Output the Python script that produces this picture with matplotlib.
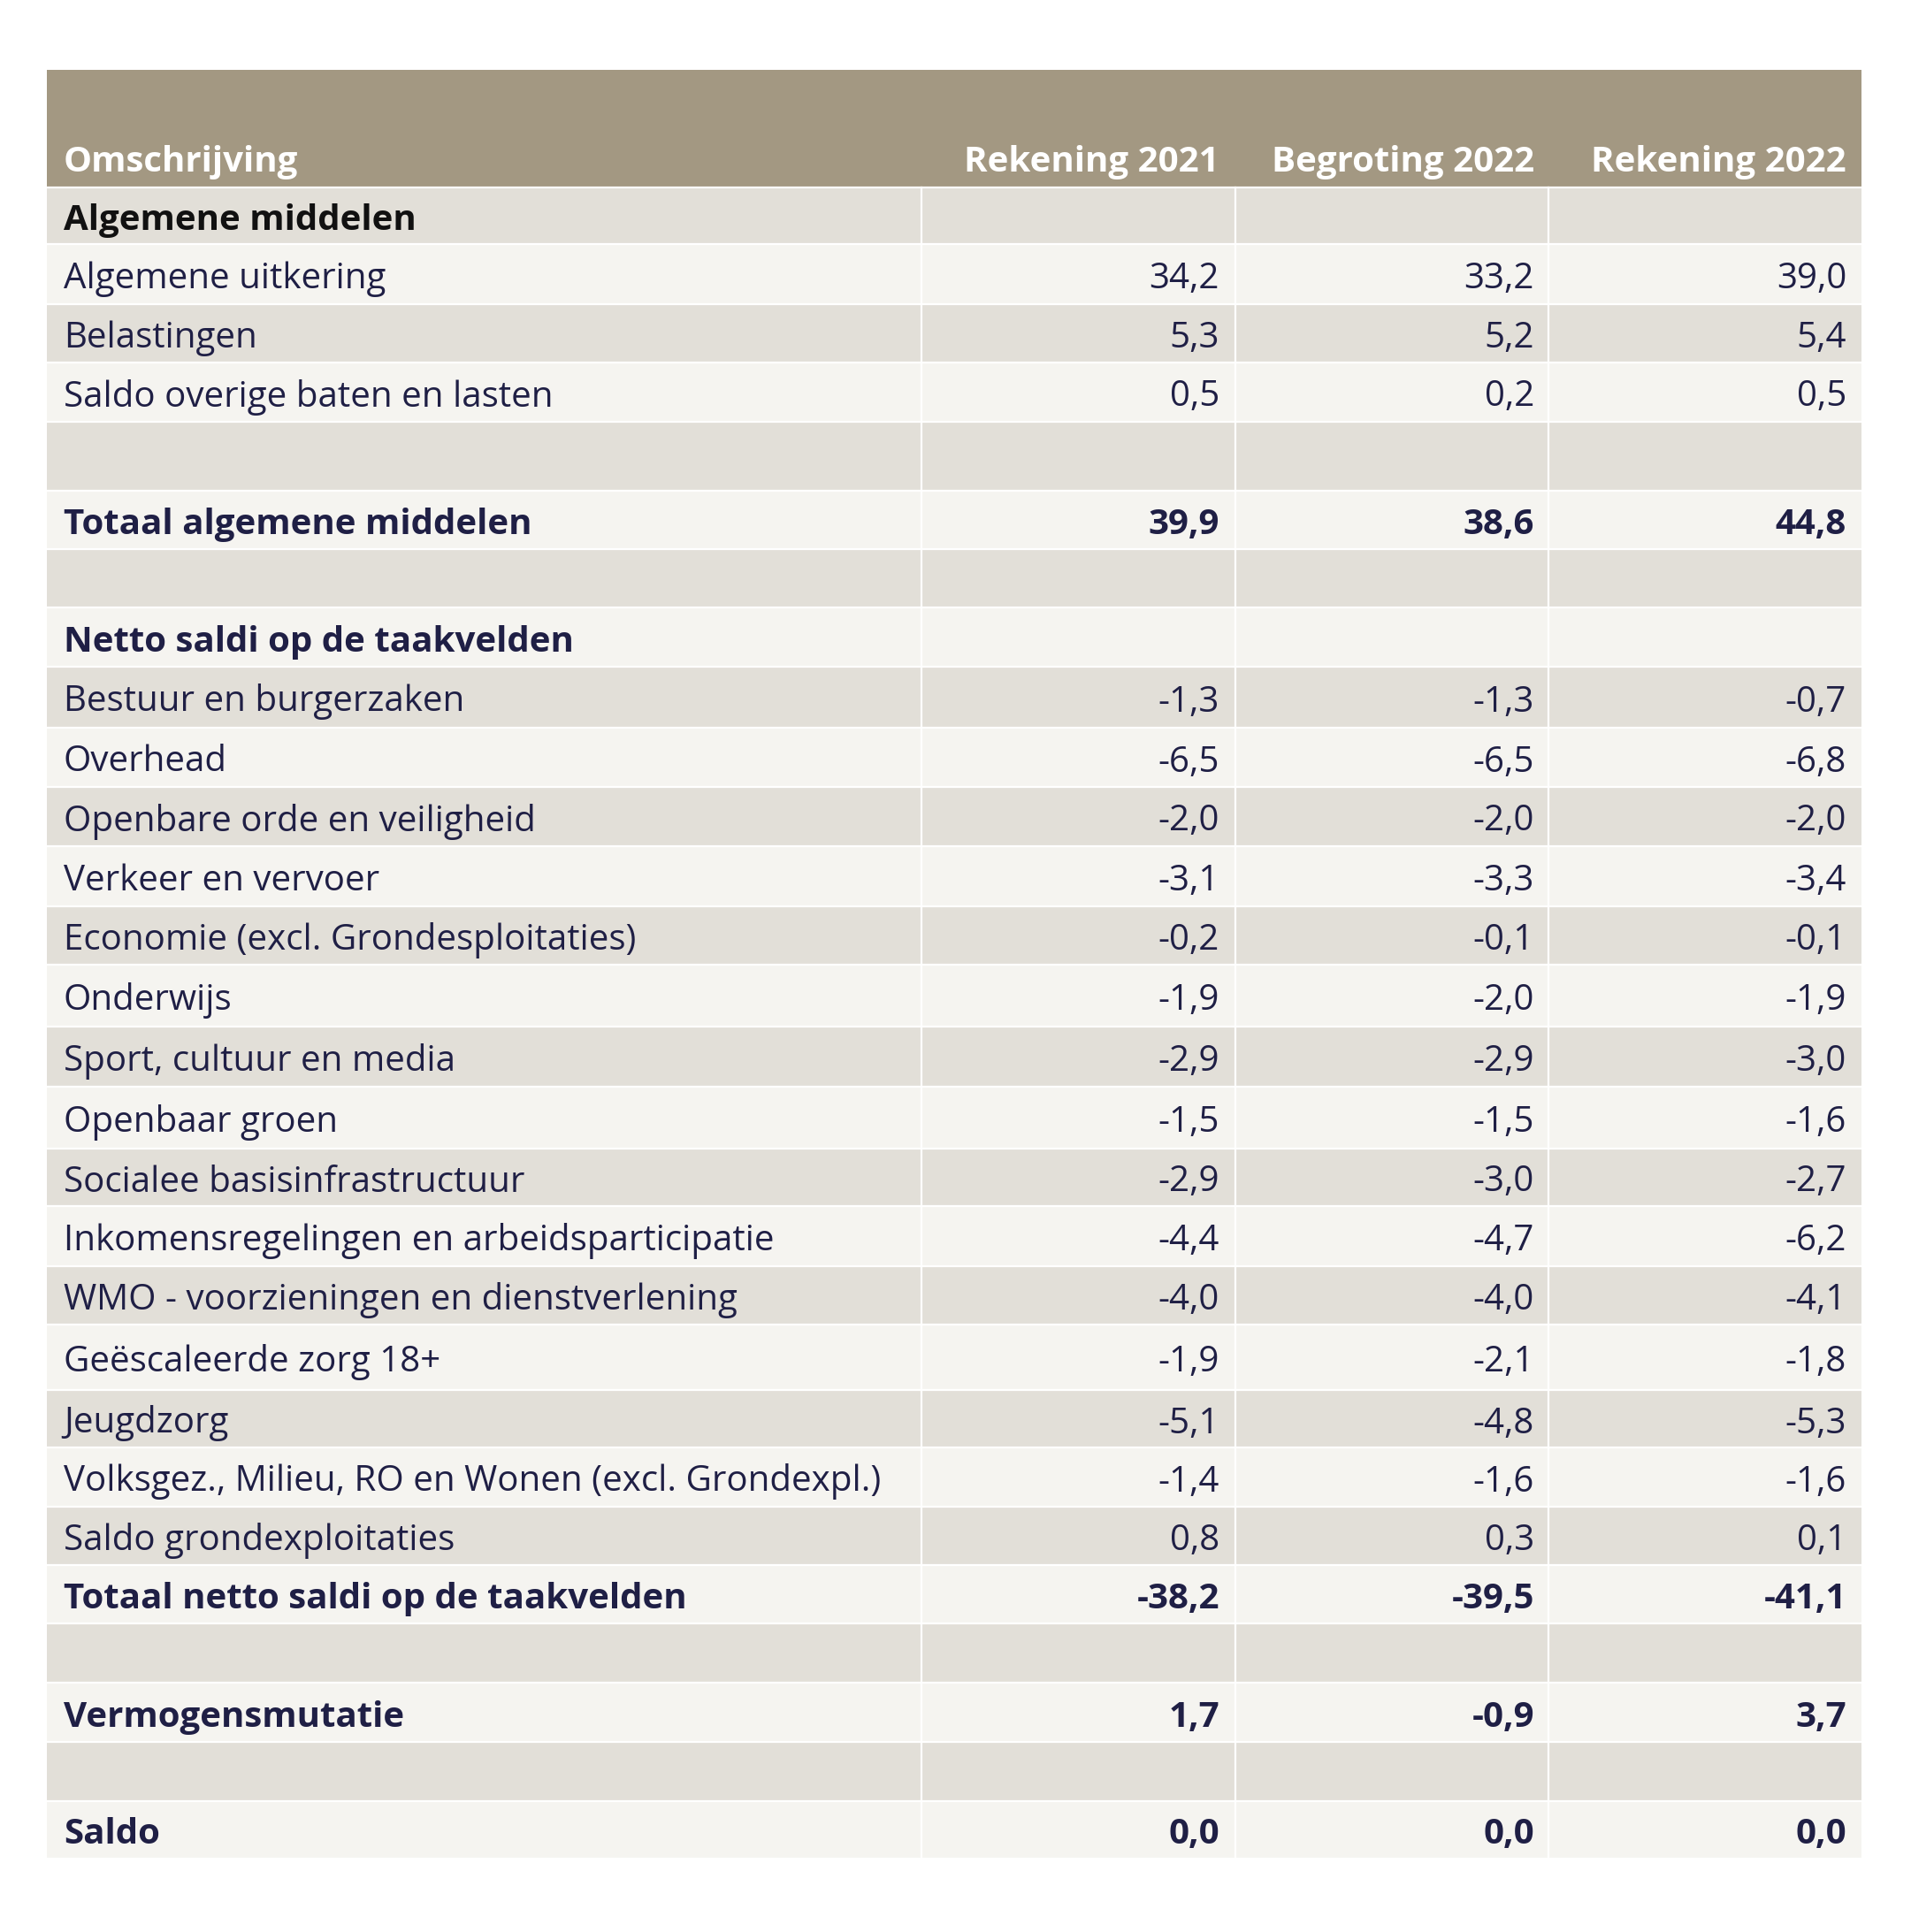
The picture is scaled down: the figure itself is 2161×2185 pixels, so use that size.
import matplotlib
matplotlib.use("Agg")
import matplotlib.pyplot as plt
from matplotlib.patches import Rectangle

# ---------------- data ----------------
headers = ["Omschrijving", "Rekening 2021", "Begroting 2022", "Rekening 2022"]

labels = [
    "Algemene middelen",
    "Algemene uitkering",
    "Belastingen",
    "Saldo overige baten en lasten",
    "",
    "Totaal algemene middelen",
    "",
    "Netto saldi op de taakvelden",
    "Bestuur en burgerzaken",
    "Overhead",
    "Openbare orde en veiligheid",
    "Verkeer en vervoer",
    "Economie (excl. Grondesploitaties)",
    "Onderwijs",
    "Sport, cultuur en media",
    "Openbaar groen",
    "Socialee basisinfrastructuur",
    "Inkomensregelingen en arbeidsparticipatie",
    "WMO - voorzieningen en dienstverlening",
    "Geëscaleerde zorg 18+",
    "Jeugdzorg",
    "Volksgez., Milieu, RO en Wonen (excl. Grondexpl.)",
    "Saldo grondexploitaties",
    "Totaal netto saldi op de taakvelden",
    "",
    "Vermogensmutatie",
    "",
    "Saldo",
]

rekening_2021 = [None, 34.2, 5.3, 0.5, None, 39.9, None, None,
                 -1.3, -6.5, -2.0, -3.1, -0.2, -1.9, -2.9, -1.5, -2.9, -4.4, -4.0, -1.9, -5.1, -1.4, 0.8,
                 -38.2, None, 1.7, None, 0.0]
begroting_2022 = [None, 33.2, 5.2, 0.2, None, 38.6, None, None,
                  -1.3, -6.5, -2.0, -3.3, -0.1, -2.0, -2.9, -1.5, -3.0, -4.7, -4.0, -2.1, -4.8, -1.6, 0.3,
                  -39.5, None, -0.9, None, 0.0]
rekening_2022 = [None, 39.0, 5.4, 0.5, None, 44.8, None, None,
                 -0.7, -6.8, -2.0, -3.4, -0.1, -1.9, -3.0, -1.6, -2.7, -6.2, -4.1, -1.8, -5.3, -1.6, 0.1,
                 -41.1, None, 3.7, None, 0.0]

bold_rows = {"Algemene middelen", "Totaal algemene middelen", "Netto saldi op de taakvelden",
             "Totaal netto saldi op de taakvelden", "Vermogensmutatie", "Saldo"}

# ---------------- layout ----------------
W, H = 2161, 2185
FONT = ["Open Sans", "DejaVu Sans"]
FS = 29
HEADER_BG = "#A39882"
DARK = "#E2DFD8"
LIGHT = "#F5F4F0"
TXT = "#1F1F45"

table_left, table_right = 53, 2105
header_top, header_bottom = 79, 212
row_edges = [212, 276, 344, 410, 477, 555, 621, 687, 754, 823, 890, 957, 1025, 1091,
             1161, 1229, 1299, 1364, 1432, 1498, 1572, 1637, 1704, 1770, 1836, 1903,
             1970, 2037, 2101]
col_edges = [53, 1042, 1397, 1751, 2105]
text_left = 72
num_right = [1379, 1735, 2088]

fig = plt.figure(figsize=(W / 100, H / 100), dpi=100)
ax = fig.add_axes([0, 0, 1, 1])
ax.set_xlim(0, W)
ax.set_ylim(H, 0)
ax.axis("off")

# header
ax.add_patch(Rectangle((table_left, header_top), table_right - table_left,
                       header_bottom - header_top, facecolor=HEADER_BG, edgecolor="none"))
ax.text(text_left, 194, headers[0], fontsize=FS, fontweight="bold", color="white",
        family=FONT, ha="left", va="baseline")
for j, hx in enumerate(num_right):
    ax.text(hx, 194, headers[j + 1], fontsize=FS, fontweight="bold", color="white",
            family=FONT, ha="right", va="baseline")

def fmt(v):
    return f"{v:.1f}".replace(".", ",")

series = [rekening_2021, begroting_2022, rekening_2022]
for i, lab in enumerate(labels):
    y0, y1 = row_edges[i], row_edges[i + 1]
    bg = DARK if i % 2 == 0 else LIGHT
    ax.add_patch(Rectangle((table_left, y0), table_right - table_left, y1 - y0,
                           facecolor=bg, edgecolor="none"))
    ax.plot([table_left, table_right], [y0, y0], color="white", lw=1.6, solid_capstyle="butt")
    yb = (y0 + y1) / 2 + 16
    bold = lab in bold_rows
    col = "#111111" if i == 0 else TXT
    if lab:
        ax.text(text_left, yb, lab, fontsize=FS, fontweight="bold" if bold else "normal",
                color=col, family=FONT, ha="left", va="baseline")
    for j, s in enumerate(series):
        v = s[i]
        if v is not None:
            ax.text(num_right[j], yb, fmt(v), fontsize=FS,
                    fontweight="bold" if bold else "normal", color=TXT, family=FONT,
                    ha="right", va="baseline")

# vertical column separators (body only)
for cx in col_edges[1:-1]:
    ax.plot([cx, cx], [header_bottom, row_edges[-1]], color="white", lw=1.6)

fig.savefig("out.png", dpi=100, facecolor="white")
